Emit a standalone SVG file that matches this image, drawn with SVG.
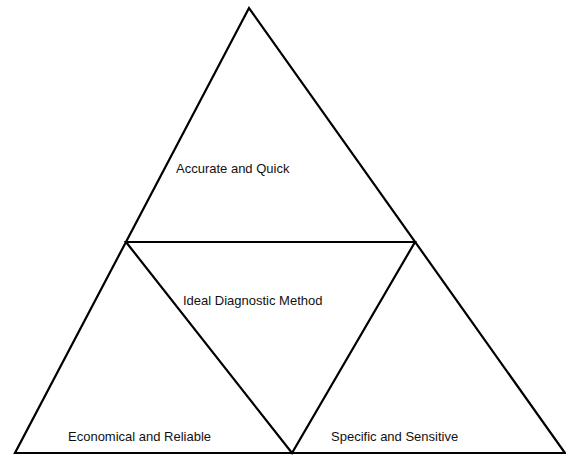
<svg xmlns="http://www.w3.org/2000/svg" width="566" height="457" viewBox="0 0 566 457">
<style>
.l{stroke:#000;stroke-width:2.2;fill:none;stroke-linejoin:miter}
.t{font-family:"Liberation Sans",Arial,sans-serif;font-size:13px;fill:#111}
</style>
<rect width="566" height="457" fill="#fff"/>
<g id="connectors">
<polygon class="l" points="249,8 15,453 565,453"/>
<polygon class="l" points="126,242 415,242 292,453"/>
</g>
<g id="top"><text class="t" x="176" y="173">Accurate and Quick</text></g>
<g id="center"><text class="t" x="183" y="305">Ideal Diagnostic Method</text></g>
<g id="left"><text class="t" x="68" y="441">Economical and Reliable</text></g>
<g id="right"><text class="t" x="331" y="441">Specific and Sensitive</text></g>
</svg>
